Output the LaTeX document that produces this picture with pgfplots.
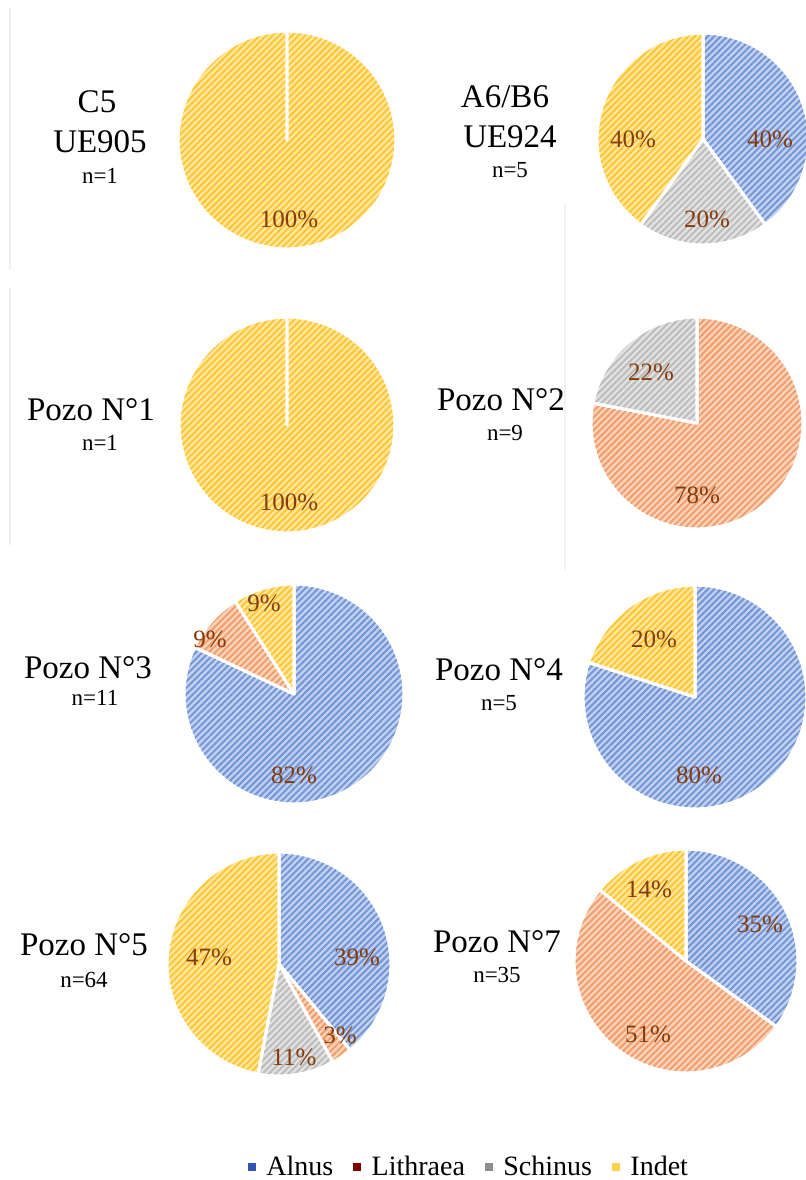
\documentclass[border=0pt]{standalone}
\usepackage{fontspec}
\setmainfont{Liberation Serif}
\usepackage{pgfplots}
\pgfplotsset{compat=1.18}
\usetikzlibrary{patterns.meta}

\definecolor{alnusL}{HTML}{C2D1EF}
\definecolor{alnusD}{HTML}{7496D8}
\definecolor{lithL}{HTML}{F9D3BA}
\definecolor{lithD}{HTML}{F29D6C}
\definecolor{schL}{HTML}{E2E2E2}
\definecolor{schD}{HTML}{BDBDBD}
\definecolor{indL}{HTML}{FFE7A0}
\definecolor{indD}{HTML}{FFC633}
\definecolor{lab}{HTML}{843C0C}
\definecolor{alnusLeg}{HTML}{3355B5}
\definecolor{lithLeg}{HTML}{7F0000}
\definecolor{schLeg}{HTML}{8E8E8E}
\definecolor{indLeg}{HTML}{FFD34F}

\tikzset{
  slicebase/.style={draw=white, line width=1.4pt, line join=round},
  hatch/.style={pattern={Lines[angle=45,distance=2.3pt,line width=1.0pt]}, pattern color=#1},
  alnus/.style={slicebase, preaction={fill=alnusL}, preaction={hatch=alnusD}},
  lith/.style={slicebase, preaction={fill=lithL}, preaction={hatch=lithD}},
  sch/.style={slicebase, preaction={fill=schL}, preaction={hatch=schD}},
  ind/.style={slicebase, preaction={fill=indL}, preaction={hatch=indD}},
  big/.style={anchor=base, font=\fontsize{16.5}{18}\selectfont, inner sep=0pt},
  nn/.style={anchor=base, font=\fontsize{11.5}{13}\selectfont, inner sep=0pt},
  pct/.style={anchor=base, font=\fontsize{12.5}{14}\selectfont, text=lab, inner sep=0pt},
}

% #1 cx, #2 cy, #3 r, #4 from (%), #5 to (%), #6 style
\newcommand{\slice}[6]{%
  \addplot[#6, forget plot, domain=#4:#5, samples=90]
    ({#1+#3*sin(3.6*x)},{#2-#3*cos(3.6*x)}) -- (axis cs:#1,#2) -- cycle;
}

\begin{document}
\begin{tikzpicture}
\begin{axis}[
  at={(0,0)}, anchor=south west,
  scale only axis, width=403pt, height=590pt,
  xmin=0, xmax=806, ymin=0, ymax=1180, y dir=reverse,
  hide axis, clip=true,
  legend style={at={(axis cs:470,1167)}, anchor=center, draw=none, fill=none,
    font=\fontsize{14}{15}\selectfont, legend columns=4,
    /tikz/every even column/.append style={column sep=8pt}},
  legend image code/.code={\fill[#1, draw=none] (0pt,-2pt) rectangle (4pt,2pt); \path (7pt,0pt);},
]
% faint frame remnants
\addplot[forget plot, gray!12, line width=1pt] coordinates {(10,8) (10,270)};
\addplot[forget plot, gray!12, line width=1pt] coordinates {(10,288) (10,545)};
\addplot[forget plot, gray!10, line width=0.8pt] coordinates {(565,205) (565,570)};

% C5 UE905 (n=1): Indet 100
\slice{287}{140}{109}{0}{100}{ind}
% A6/B6 UE924 (n=5): Alnus 40, Schinus 20, Indet 40
\slice{703}{139}{106}{0}{40}{alnus}
\slice{703}{139}{106}{40}{60}{sch}
\slice{703}{139}{106}{60}{100}{ind}
% Pozo N1 (n=1): Indet 100
\slice{287}{425}{108}{0}{100}{ind}
% Pozo N2 (n=9): Lithraea 78, Schinus 22
\slice{697}{423}{106}{0}{78}{lith}
\slice{697}{423}{106}{78}{100}{sch}
% Pozo N3 (n=11): Alnus 82, Lithraea 9, Indet 9
\slice{294}{694}{110}{0}{82}{alnus}
\slice{294}{694}{110}{82}{91}{lith}
\slice{294}{694}{110}{91}{100}{ind}
% Pozo N4 (n=5): Alnus 80, Indet 20
\slice{695}{697}{112}{0}{80}{alnus}
\slice{695}{697}{112}{80}{100}{ind}
% Pozo N5 (n=64): Alnus 39, Lithraea 3, Schinus 11, Indet 47
\slice{279}{964}{112}{0}{39}{alnus}
\slice{279}{964}{112}{39}{42}{lith}
\slice{279}{964}{112}{42}{53}{sch}
\slice{279}{964}{112}{53}{100}{ind}
% Pozo N7 (n=35): Alnus 35, Lithraea 51, Indet 14
\slice{686}{961}{112}{0}{35}{alnus}
\slice{686}{961}{112}{35}{86}{lith}
\slice{686}{961}{112}{86}{100}{ind}

% legend
\addlegendimage{fill=alnusLeg}
\addlegendimage{fill=lithLeg}
\addlegendimage{fill=schLeg}
\addlegendimage{fill=indLeg}
\legend{Alnus, Lithraea, Schinus, Indet}

% titles
\node[big] at (axis cs:97,112) {C5};
\node[big] at (axis cs:100,152) {UE905};
\node[nn]  at (axis cs:100,183) {n=1};
\node[big] at (axis cs:505,107) {A6/B6};
\node[big] at (axis cs:510,147) {UE924};
\node[nn]  at (axis cs:510,177) {n=5};
\node[big] at (axis cs:91,420) {Pozo N°1};
\node[nn]  at (axis cs:100,450) {n=1};
\node[big] at (axis cs:501,410) {Pozo N°2};
\node[nn]  at (axis cs:505,440) {n=9};
\node[big] at (axis cs:88,678) {Pozo N°3};
\node[nn]  at (axis cs:95,705) {n=11};
\node[big] at (axis cs:499,680) {Pozo N°4};
\node[nn]  at (axis cs:499,710) {n=5};
\node[big] at (axis cs:84,955) {Pozo N°5};
\node[nn]  at (axis cs:84,987) {n=64};
\node[big] at (axis cs:497,952) {Pozo N°7};
\node[nn]  at (axis cs:497,982) {n=35};

% percentages
\node[pct] at (axis cs:289,227) {100\%};
\node[pct] at (axis cs:770,147) {40\%};
\node[pct] at (axis cs:707,227) {20\%};
\node[pct] at (axis cs:633,147) {40\%};
\node[pct] at (axis cs:289,510) {100\%};
\node[pct] at (axis cs:697,503) {78\%};
\node[pct] at (axis cs:651,380) {22\%};
\node[pct] at (axis cs:294,783) {82\%};
\node[pct] at (axis cs:210,647) {9\%};
\node[pct] at (axis cs:264,611) {9\%};
\node[pct] at (axis cs:699,783) {80\%};
\node[pct] at (axis cs:654,647) {20\%};
\node[pct] at (axis cs:357,965) {39\%};
\node[pct] at (axis cs:340,1043) {3\%};
\node[pct] at (axis cs:294,1065) {11\%};
\node[pct] at (axis cs:209,965) {47\%};
\node[pct] at (axis cs:760,932) {35\%};
\node[pct] at (axis cs:648,1042) {51\%};
\node[pct] at (axis cs:649,897) {14\%};
\end{axis}
\pgfresetboundingbox
\path (0,0) rectangle (403pt,590pt);
\end{tikzpicture}
\end{document}
